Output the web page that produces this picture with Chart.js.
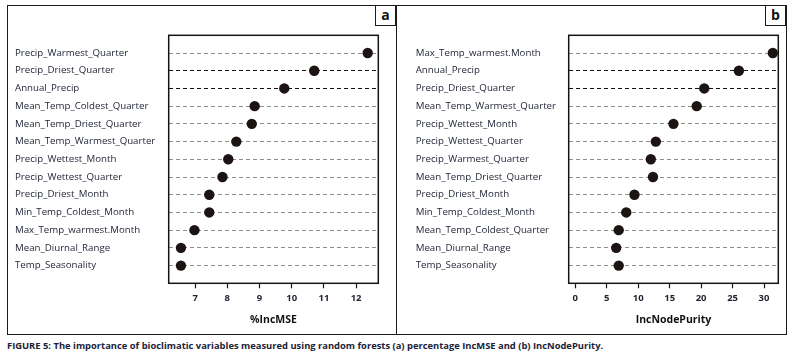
<!DOCTYPE html>
<html lang="en">
<head>
  <meta charset="UTF-8" />
  <title>Bioclimatic variable importance</title>
  <script src="https://cdn.jsdelivr.net/npm/chart.js"></script>
  <style>
    body {
      margin: 0; padding: 0;
      background: #fff;
      width: 791px; height: 358px;
      position: relative;
      overflow: hidden;
      font-family: "Open Sans", sans-serif;
    }
    .frame {
      position: absolute;
      left: 7px; top: 5px;
      width: 778px; height: 328px;
      border: 1.5px solid #1a1a1a;
    }
    .divider {
      position: absolute;
      left: 395.5px; top: 5px;
      width: 1.5px; height: 330px;
      background: #1a1a1a;
    }
    .tag {
      position: absolute;
      top: 5px;
      width: 19px; height: 20px;
      border: 1.5px solid #1a1a1a;
      border-top: none;
      font-weight: bold;
      font-size: 14px;
      line-height: 19px;
      text-align: center;
      color: #111;
    }
    canvas { position: absolute; }
    #caption {
      position: absolute;
      left: 7px; top: 339px;
      font-weight: bold;
      font-size: 9.4px;
      color: #1c2238;
      white-space: nowrap;
    }
  </style>
</head>
<body>
  <div class="frame"></div>
  <div class="divider"></div>
  <div class="tag" style="left:375px;">a</div>
  <div class="tag" style="left:765px;">b</div>
  <canvas id="chartA" width="387" height="327" style="left:8px; top:6px;"></canvas>
  <canvas id="chartB" width="388" height="327" style="left:397px; top:6px;"></canvas>
  <div id="caption">FIGURE 5: The importance of bioclimatic variables measured using random forests (a) percentage IncMSE and (b) IncNodePurity.</div>

  <script>
    // panel a: %IncMSE
    const varsA = [
      "Precip_Warmest_Quarter", "Precip_Driest_Quarter", "Annual_Precip",
      "Mean_Temp_Coldest_Quarter", "Mean_Temp_Driest_Quarter", "Mean_Temp_Warmest_Quarter",
      "Precip_Wettest_Month", "Precip_Wettest_Quarter", "Precip_Driest_Month",
      "Min_Temp_Coldest_Month", "Max_Temp_warmest.Month", "Mean_Diurnal_Range",
      "Temp_Seasonality"
    ];
    const incMSE = [12.36, 10.70, 9.77, 8.85, 8.76, 8.28, 8.03, 7.85, 7.44, 7.44, 6.98, 6.56, 6.56];
    const ticksA = [7, 8, 9, 10, 11, 12];

    // panel b: IncNodePurity
    const varsB = [
      "Max_Temp_warmest.Month", "Annual_Precip", "Precip_Driest_Quarter",
      "Mean_Temp_Warmest_Quarter", "Precip_Wettest_Month", "Precip_Wettest_Quarter",
      "Precip_Warmest_Quarter", "Mean_Temp_Driest_Quarter", "Precip_Driest_Month",
      "Min_Temp_Coldest_Month", "Mean_Temp_Coldest_Quarter", "Mean_Diurnal_Range",
      "Temp_Seasonality"
    ];
    const nodePurity = [31.4, 26.0, 20.5, 19.3, 15.6, 12.8, 12.0, 12.35, 9.4, 8.1, 6.9, 6.5, 6.9];
    const ticksB = [0, 5, 10, 15, 20, 25, 30];

    const textColor = "#1d2233";

    // box round the plot area, under the dots
    const plotBox = {
      id: "plotBox",
      beforeDatasetsDraw(chart) {
        const a = chart.chartArea;
        const ctx = chart.ctx;
        ctx.save();
        ctx.strokeStyle = "#141414";
        ctx.lineWidth = 1.5;
        ctx.strokeRect(a.left, a.top, a.right - a.left, a.bottom - a.top);
        ctx.restore();
      }
    };

    function dotChart(id, names, values, tickVals, xMin, xMax, title, pad, yWidth) {
      const points = values.map((v, i) => ({ x: v, y: i + 1 }));
      new Chart(document.getElementById(id), {
        type: "scatter",
        data: {
          datasets: [{
            data: points,
            pointRadius: 5.2,
            pointHoverRadius: 5.2,
            backgroundColor: "#1c1412",
            borderWidth: 0,
            clip: false
          }]
        },
        options: {
          responsive: false,
          animation: false,
          events: [],
          layout: { padding: pad },
          plugins: { legend: { display: false }, tooltip: { enabled: false } },
          scales: {
            x: {
              type: "linear",
              min: xMin,
              max: xMax,
              afterBuildTicks: s => { s.ticks = tickVals.map(v => ({ value: v })); },
              afterFit: s => { s.height = 49.7; },
              border: { display: false },
              grid: {
                drawOnChartArea: false,
                drawTicks: true,
                tickLength: 5,
                tickColor: "#141414",
                tickWidth: 1.2
              },
              ticks: {
                padding: 4,
                maxRotation: 0,
                color: textColor,
                font: { family: "Open Sans", size: 9.5, weight: "bold" }
              },
              title: {
                display: true,
                text: title,
                color: "#111",
                padding: { top: 0, bottom: 6.7 },
                font: { family: "Open Sans", size: 10.5, weight: "bold" }
              }
            },
            y: {
              type: "linear",
              reverse: true,
              min: 0,
              max: 14,
              afterBuildTicks: s => { s.ticks = names.map((n, i) => ({ value: i + 1 })); },
              afterFit: s => { s.width = yWidth; },
              border: { display: false, dash: [4, 3] },
              grid: {
                drawTicks: false,
                tickLength: 0,
                lineWidth: 1,
                color: c => (c.tick && (c.tick.value === 2 || c.tick.value === 3)) ? "#111" : "#8e8e8e"
              },
              ticks: {
                crossAlign: "far",
                autoSkip: false,
                color: textColor,
                font: { family: "Open Sans", size: 9.7 },
                callback: v => names[v - 1]
              }
            }
          }
        },
        plugins: [plotBox]
      });
    }

    dotChart("chartA", varsA, incMSE, ticksA, 6.18, 12.69, "%IncMSE",
      { left: 7, right: 16.7, top: 29.3, bottom: 0 }, 153.7);
    dotChart("chartB", varsB, nodePurity, ticksB, -1.05, 32.27, "IncNodePurity",
      { left: 18.7, right: 6.7, top: 29.3, bottom: 0 }, 153);
  </script>
</body>
</html>
